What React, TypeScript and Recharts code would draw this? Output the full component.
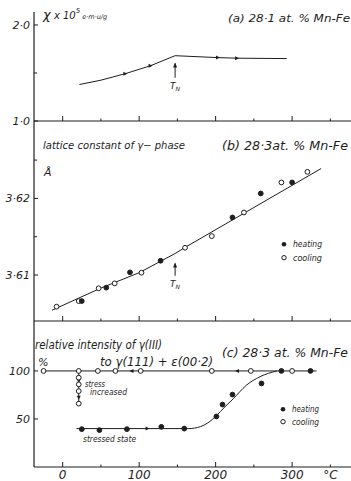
import React from "react";
import { ComposedChart, Line, Scatter, XAxis, YAxis, ReferenceLine } from "recharts";

// (a) susceptibility, 28.1 at.% Mn-Fe (x 10^-5 emu/g)
const chiTemps = [22, 50, 82, 115, 147, 203, 228, 293];
const chiValues = [1.38, 1.425, 1.493, 1.576, 1.68, 1.66, 1.654, 1.65];
const chiArrowTemps = [82, 115, 203, 228];
const chiArrowValues = [1.493, 1.576, 1.66, 1.654];

// (b) lattice constant of gamma phase, 28.3 at.% Mn-Fe (Å)
const latHeatTemps = [25, 57, 88, 128, 222, 259, 300];
const latHeatValues = [3.6066, 3.60835, 3.61035, 3.61186, 3.61751, 3.62064, 3.62208];
const latCoolTemps = [-8, 21, 47, 68, 103, 160, 195, 237, 286, 320];
const latCoolValues = [3.60587, 3.6066, 3.60827, 3.60891, 3.6103, 3.61356, 3.61508, 3.61816, 3.62208, 3.62346];
const latFitTemps = [-14, 50, 100, 130, 147, 160, 338];
const latFitValues = [3.6054, 3.6083, 3.6103, 3.6119, 3.6128, 3.6136, 3.6239];

// (c) relative intensity of gamma(111) (%)
const intCoolTemps = [-25, 21, 46, 69, 102, 195, 246, 300];
const intCoolValues = [100, 100, 100, 100, 100, 100, 100, 100];
const intHeatTemps = [25, 48, 84, 129, 159, 201, 209, 222, 260, 286, 324];
const intHeatValues = [39.4, 38.4, 39.4, 41.8, 40, 52.6, 65, 75.4, 87, 100, 100];
const stressTemps = [21, 21, 21, 21];
const stressValues = [93, 86, 79, 66];
const stressLineTemps = [21, 21];
const stressLineValues = [100, 66];
const topLineTemps = [-25, 332];
const topLineValues = [100, 100];
const stressedFitTemps = [18, 165, 180, 190, 201, 212, 223, 240, 258, 280];
const stressedFitValues = [40, 40, 42, 46, 53.5, 62.5, 71, 85, 94, 100];
const leftArrowTemps = [90, 228];
const leftArrowValues = [100, 100];
const rightArrowTemps = [111];
const rightArrowValues = [40];
const downArrowTemps = [21, 21];
const downArrowValues = [89.5, 72];

const T_N = 147;

const xTicks = [0, 50, 100, 150, 200, 250, 300, 350];
const xTickLabels = ["0", "", "100", "", "200", "", "300", "°C"];
const chiTicks = [1, 1.5, 2];
const chiTickLabels = ["1·0", "", "2·0"];
const latTicks = [3.61, 3.615, 3.62, 3.625];
const latTickLabels = ["3·61", "", "3·62", ""];
const intTicks = [50, 100];
const intTickLabels = ["50", "100"];

const INK = "#1e1e1e";
const FONT = "'DejaVu Sans', sans-serif";
const XDOM: [number, number] = [-37.5, 377];

const pts = (ts: number[], vs: number[]) => ts.map((t, i) => ({ t, v: vs[i] }));

const XTick = (p: any) => {
  const i = xTicks.indexOf(p.payload.value);
  const major = i % 2 === 0;
  return (
    <g>
      <line x1={p.x} x2={p.x} y1={p.y} y2={p.y - (major ? 5 : 2.5)} stroke={INK} strokeWidth={1} />
      {p.showLabel && xTickLabels[i] ? (
        <text x={p.x} y={p.y + 12} textAnchor="middle" fontSize={12} fontStyle="italic" fontFamily={FONT} fill={INK}>
          {xTickLabels[i]}
        </text>
      ) : null}
    </g>
  );
};

const YTick = (p: any) => {
  const i = p.ticksList.indexOf(p.payload.value);
  const label = p.labels[i];
  return (
    <g>
      <line x1={p.x} x2={p.x + (label ? 4 : 3)} y1={p.y} y2={p.y} stroke={INK} strokeWidth={1} />
      {label ? (
        <text x={p.x - 4} y={p.y} dy="0.36em" textAnchor="end" fontSize={11} fontStyle="italic" fontFamily={FONT} fill={INK}>
          {label}
        </text>
      ) : null}
    </g>
  );
};

const dot = (filled: boolean) => (p: any) =>
  <circle cx={p.cx} cy={p.cy} r={2.4} fill={filled ? INK : "#fff"} stroke={INK} strokeWidth={1} />;

const arrow = (dir: string) => (p: any) => {
  const { cx, cy } = p;
  const l = 2, h = 2;
  let d = "";
  if (dir === "right") d = `M${cx + l},${cy} L${cx - l},${cy - h} L${cx - l},${cy + h}Z`;
  if (dir === "left") d = `M${cx - l},${cy} L${cx + l},${cy - h} L${cx + l},${cy + h}Z`;
  if (dir === "down") d = `M${cx},${cy + l} L${cx - h},${cy - l} L${cx + h},${cy - l}Z`;
  return <path d={d} fill={INK} />;
};

const tnArrow = (p: any) => {
  const top = Math.min(p.y1, p.y2);
  const bot = Math.max(p.y1, p.y2);
  return (
    <g>
      <line x1={p.x1} x2={p.x1} y1={top} y2={bot} stroke={INK} strokeWidth={1} />
      <path d={`M${p.x1},${top - 1} L${p.x1 - 2},${top + 4} L${p.x1 + 2},${top + 4}Z`} fill={INK} />
      <text x={p.x1} y={bot + 11} textAnchor="middle" fontSize={9} fontStyle="italic" fontFamily={FONT} fill={INK}>
        T<tspan fontSize={6} dy={2}>N</tspan>
      </text>
    </g>
  );
};

const axisLine = { stroke: INK, strokeWidth: 1.2 };

function panelAxes(showX: boolean, domain: [number, number], ticks: number[], labels: string[]) {
  return [
    <XAxis
      key="x"
      type="number"
      dataKey="t"
      domain={XDOM}
      allowDataOverflow
      ticks={xTicks}
      interval={0}
      height={showX ? 14 : 1}
      tickSize={0}
      tickMargin={0}
      tickLine={false}
      axisLine={axisLine}
      tick={(p: any) => <XTick {...p} showLabel={showX} />}
    />,
    <YAxis
      key="y"
      type="number"
      dataKey="v"
      domain={domain}
      allowDataOverflow
      ticks={ticks}
      interval={0}
      width={34}
      tickSize={0}
      tickMargin={0}
      tickLine={false}
      axisLine={axisLine}
      tick={(p: any) => <YTick {...p} ticksList={ticks} labels={labels} />}
    />,
  ];
}

const layer: React.CSSProperties = { position: "absolute", left: 0, top: 0 };
const txt = { fontFamily: FONT, fill: INK, fontStyle: "italic" as const };

export default function App() {
  return (
    <div style={{ position: "absolute", left: 0, top: 0, width: 351, height: 481, background: "#fff", overflow: "hidden" }}>
      {/* panel (a) */}
      <div style={layer}>
        <ComposedChart width={351} height={481} margin={{ top: 12, right: 0, bottom: 359, left: 0 }}>
          {panelAxes(false, [1.0, 2.135], chiTicks, chiTickLabels)}
          <Line data={pts(chiTemps, chiValues)} dataKey="v" type="linear" stroke={INK} strokeWidth={1} dot={false} isAnimationActive={false} />
          <Scatter data={pts(chiArrowTemps, chiArrowValues)} shape={arrow("right")} isAnimationActive={false} />
          <ReferenceLine segment={[{ x: T_N, y: 1.45 }, { x: T_N, y: 1.6 }]} shape={tnArrow} stroke={INK} />
        </ComposedChart>
      </div>
      {/* panel (b) */}
      <div style={layer}>
        <ComposedChart width={351} height={481} margin={{ top: 121, right: 0, bottom: 159, left: 0 }}>
          {panelAxes(false, [3.604, 3.6301], latTicks, latTickLabels)}
          <Line data={pts(latFitTemps, latFitValues)} dataKey="v" type="linear" stroke={INK} strokeWidth={1} dot={false} isAnimationActive={false} />
          <Scatter data={pts(latCoolTemps, latCoolValues)} shape={dot(false)} isAnimationActive={false} />
          <Scatter data={pts(latHeatTemps, latHeatValues)} shape={dot(true)} isAnimationActive={false} />
          <ReferenceLine segment={[{ x: T_N, y: 3.6099 }, { x: T_N, y: 3.6115 }]} shape={tnArrow} stroke={INK} />
        </ComposedChart>
      </div>
      {/* panel (c) */}
      <div style={layer}>
        <ComposedChart width={351} height={481} margin={{ top: 321, right: 0, bottom: 0, left: 0 }}>
          {panelAxes(true, [0, 152], intTicks, intTickLabels)}
          <Line data={pts(topLineTemps, topLineValues)} dataKey="v" type="linear" stroke={INK} strokeWidth={1} dot={false} isAnimationActive={false} />
          <Line data={pts(stressLineTemps, stressLineValues)} dataKey="v" type="linear" stroke={INK} strokeWidth={1} dot={false} isAnimationActive={false} />
          <Line data={pts(stressedFitTemps, stressedFitValues)} dataKey="v" type="monotone" stroke={INK} strokeWidth={1} dot={false} isAnimationActive={false} />
          <Scatter data={pts(leftArrowTemps, leftArrowValues)} shape={arrow("left")} isAnimationActive={false} />
          <Scatter data={pts(rightArrowTemps, rightArrowValues)} shape={arrow("right")} isAnimationActive={false} />
          <Scatter data={pts(downArrowTemps, downArrowValues)} shape={arrow("down")} isAnimationActive={false} />
          <Scatter data={pts(intCoolTemps, intCoolValues)} shape={dot(false)} isAnimationActive={false} />
          <Scatter data={pts(stressTemps, stressValues)} shape={dot(false)} isAnimationActive={false} />
          <Scatter data={pts(intHeatTemps, intHeatValues)} shape={dot(true)} isAnimationActive={false} />
        </ComposedChart>
      </div>
      {/* annotations */}
      <svg width={351} height={481} style={{ ...layer, pointerEvents: "none" }}>
        <text x={43} y={19} {...txt} fontSize={13}>
          χ<tspan fontSize={10}> x 10</tspan>
          <tspan fontSize={7} dy={-6}>5</tspan>
          <tspan fontSize={6.5} dy={6}> e·m·u/g</tspan>
        </text>
        <text x={228} y={22} {...txt} fontSize={11} textLength={122} lengthAdjust="spacingAndGlyphs">(a) 28·1 at. % Mn-Fe</text>

        <text x={43} y={149} {...txt} fontSize={10} textLength={142} lengthAdjust="spacingAndGlyphs">lattice constant of γ− phase</text>
        <text x={44} y={176} {...txt} fontSize={11}>Å</text>
        <text x={222} y={150} {...txt} fontSize={11.5} textLength={126} lengthAdjust="spacingAndGlyphs">(b) 28·3at. % Mn-Fe</text>
        <circle cx={284} cy={244.3} r={2.3} fill={INK} />
        <text x={293} y={247.3} {...txt} fontSize={8.5} textLength={29} lengthAdjust="spacingAndGlyphs">heating</text>
        <circle cx={284} cy={257.7} r={2.2} fill="#fff" stroke={INK} />
        <text x={293} y={260.7} {...txt} fontSize={8.5} textLength={29} lengthAdjust="spacingAndGlyphs">cooling</text>

        <text x={35} y={349} {...txt} fontSize={12} textLength={127} lengthAdjust="spacingAndGlyphs">relative intensity of γ(III)</text>
        <text x={38} y={366} {...txt} fontSize={11}>%</text>
        <text x={100} y={366} {...txt} fontSize={12} textLength={113} lengthAdjust="spacingAndGlyphs">to γ(111) + ε(00·2)</text>
        <text x={222} y={357} {...txt} fontSize={12} textLength={126} lengthAdjust="spacingAndGlyphs">(c) 28·3 at. % Mn-Fe</text>
        <text x={85} y={387} {...txt} fontSize={8} textLength={20} lengthAdjust="spacingAndGlyphs">stress</text>
        <text x={90} y={395} {...txt} fontSize={8} textLength={37} lengthAdjust="spacingAndGlyphs">increased</text>
        <text x={83} y={442} {...txt} fontSize={8} textLength={53} lengthAdjust="spacingAndGlyphs">stressed state</text>
        <circle cx={283} cy={409.3} r={2.3} fill={INK} />
        <text x={292} y={412.3} {...txt} fontSize={8.5} textLength={27} lengthAdjust="spacingAndGlyphs">heating</text>
        <circle cx={283} cy={421.7} r={2.2} fill="#fff" stroke={INK} />
        <text x={292} y={424.7} {...txt} fontSize={8.5} textLength={27} lengthAdjust="spacingAndGlyphs">cooling</text>
      </svg>
    </div>
  );
}
